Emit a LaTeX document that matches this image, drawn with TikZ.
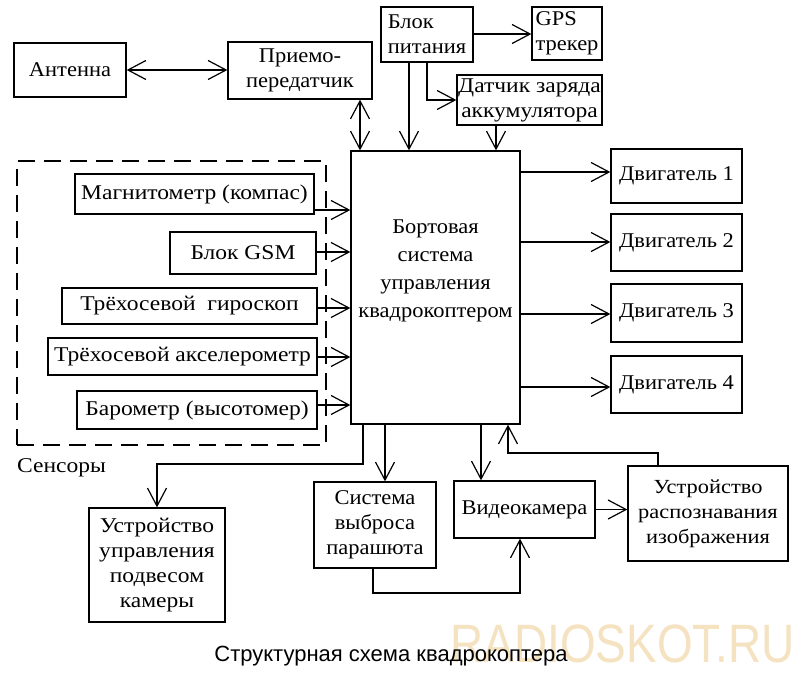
\documentclass[tikz,border=0pt]{standalone}
\usepackage{fontspec}
\setmainfont[FakeStretch=1.07]{Liberation Serif}
\newfontfamily\wideserif[FakeStretch=1.12]{Liberation Serif}
\newfontfamily\capfont{Liberation Sans}
\usetikzlibrary{arrows.meta}
\definecolor{wmcol}{RGB}{245,226,192}
\begin{document}
\begin{tikzpicture}[x=1pt,y=-1pt,
  box/.style={draw, line width=1.3pt, inner sep=1pt, align=center, font=\fontsize{21}{25}\selectfont},
  wbox/.style={box, font=\wideserif\fontsize{21}{25}\selectfont},
  lbox/.style={box, align=left},
  tip/.tip={Straight Barb[length=18pt,width=19pt]},
  arr/.style={-tip, line width=1.2pt},
  darr/.style={tip-tip, line width=1.2pt},
  txt/.style={font=\fontsize{21}{28}\selectfont, align=center}]
\useasboundingbox (0,0) rectangle (800,675);
\fill[white] (0,0) rectangle (800,675);

% watermark
\node[text=wmcol, font=\capfont\fontsize{54}{54}\selectfont, anchor=base east, xscale=0.85, inner sep=0pt] (wm) at (795,662) {RADIOSKOT.RU};

% top row
\node[box, minimum width=112pt, minimum height=54pt] (ant) at (70,70) {Антенна};
\node[box, minimum width=144pt, minimum height=57pt] (trx) at (300,70.5) {Приемо-\\передатчик};
\node[lbox, minimum width=92pt, minimum height=55pt] (pwr) at (427,34.5) {Блок\\питания};
\node[lbox, minimum width=70pt, minimum height=53pt] (gps) at (567,33.5) {GPS\\трекер};
\node[wbox, minimum width=145pt, minimum height=50pt, inner sep=0pt] (chg) at (529.5,100) {Датчик заряда\\аккумулятора};

% main block
\node[draw, line width=1.3pt, minimum width=169pt, minimum height=273pt] (main) at (435.5,287.5) {};
\node[txt] (maintxt) at (435.5,271) {Бортовая\\система\\управления\\квадрокоптером};

% sensors
\node[draw, line width=1.2pt, dash pattern=on 17pt off 9pt, minimum width=309pt, minimum height=284pt] (sens) at (171.5,303) {};
\node[wbox, minimum width=239pt, minimum height=40pt] (mag) at (194.5,194) {Магнитометр (компас)};
\node[wbox, minimum width=146pt, minimum height=42pt] (gsm) at (243,253) {Блок GSM};
\node[wbox, minimum width=255pt, minimum height=36pt] (gyro) at (189.5,306) {Трёхосевой\ \ гироскоп};
\node[wbox, minimum width=269pt, minimum height=37pt] (acc) at (182.5,356.5) {Трёхосевой акселерометр};
\node[wbox, minimum width=240pt, minimum height=38pt] (baro) at (197,410) {Барометр (высотомер)};
\node[anchor=base west, inner sep=0pt, font=\wideserif\fontsize{21}{25}\selectfont] (senslbl) at (17,472) {Сенсоры};

% motors
\node[box, minimum width=131pt, minimum height=54pt] (m1) at (676.5,176) {Двигатель 1};
\node[box, minimum width=131pt, minimum height=57pt] (m2) at (676.5,242.5) {Двигатель 2};
\node[box, minimum width=131pt, minimum height=58pt] (m3) at (676.5,313) {Двигатель 3};
\node[box, minimum width=131pt, minimum height=57pt] (m4) at (676.5,384.5) {Двигатель 4};

% bottom
\node[wbox, minimum width=136pt, minimum height=114pt] (gimbal) at (157,565) {Устройство\\управления\\подвесом\\камеры};
\node[box, minimum width=122pt, minimum height=86pt] (para) at (375,525) {Система\\выброса\\парашюта};
\node[box, minimum width=141pt, minimum height=57pt] (cam) at (524.5,509.5) {Видеокамера};
\node[box, minimum width=160pt, minimum height=95pt, font=\wideserif\fontsize{20}{25}\selectfont] (rec) at (708,513.5) {Устройство\\распознавания\\изображения};

% caption
\node[font=\capfont\fontsize{22}{26}\selectfont, anchor=base, inner sep=0pt] (cap) at (391,661) {Структурная схема квадрокоптера};

% connectors
\draw[darr] (ant.east) -- (trx.west |- ant.east);
\draw[darr] (trx.south -| 360,0) -- (main.north -| 360,0);
\draw[arr] (pwr.east |- 0,34) -- (gps.west |- 0,34);
\draw[arr] (pwr.south -| 427,0) |- (chg.west);
\draw[arr] (pwr.south -| 409,0) -- (main.north -| 409,0);
\draw[arr] (chg.south -| 496,0) -- (main.north -| 496,0);

\draw[arr] (mag.east |- 0,210) -- (main.west |- 0,210);
\draw[arr] (gsm.east |- 0,252) -- (main.west |- 0,252);
\draw[arr] (gyro.east |- 0,308) -- (main.west |- 0,308);
\draw[arr] (acc.east |- 0,357) -- (main.west |- 0,357);
\draw[arr] (baro.east |- 0,405) -- (main.west |- 0,405);

\draw[arr] (main.east |- 0,172) -- (m1.west |- 0,172);
\draw[arr] (main.east |- 0,242) -- (m2.west |- 0,242);
\draw[arr] (main.east |- 0,314) -- (m3.west |- 0,314);
\draw[arr] (main.east |- 0,387) -- (m4.west |- 0,387);

\draw[arr] (main.south -| 363,0) -- (363,464) -| (gimbal.north);
\draw[arr] (main.south -| 385,0) -- (para.north -| 385,0);
\draw[arr] (main.south -| 481,0) -- (cam.north -| 481,0);
\draw[arr] (para.south -| 373,0) -- (373,593) -| (cam.south -| 520,0);
\draw[arr] (cam.east) -- (rec.west |- cam.east);
\draw[arr] (rec.north -| 658,0) -- (658,453) -| (main.south -| 508,0);
\end{tikzpicture}
\end{document}
